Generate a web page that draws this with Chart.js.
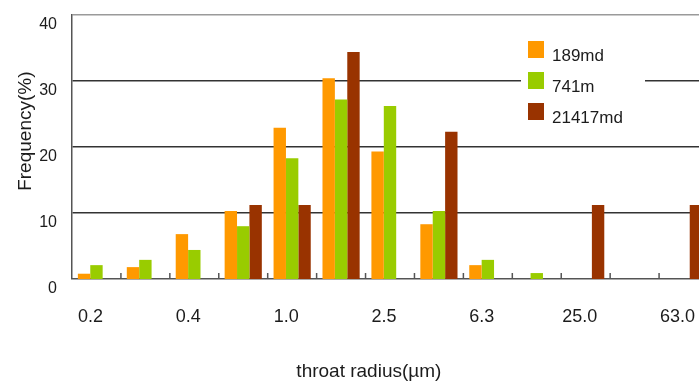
<!DOCTYPE html>
<html>
<head>
<meta charset="utf-8">
<script src="https://cdn.jsdelivr.net/npm/chart.js@4/dist/chart.umd.min.js"></script>
<style>
  html, body { margin: 0; padding: 0; background: #fff; overflow: hidden; }
  #wrap { width: 699px; height: 383px; overflow: hidden; position: relative; }
  canvas { display: block; }
</style>
</head>
<body>
<div id="wrap"><canvas id="c" width="708" height="383"></canvas></div>
<script>
// ---- data ----
const categories = ['0.2', '', '0.4', '', '1.0', '', '2.5', '', '6.3', '', '25.0', '', '63.0'];
const series189md   = [0.8, 1.8, 6.8, 10.3, 22.9, 30.4, 19.3, 8.3, 2.1, null, null, null, null];
const series741m    = [2.1, 2.9, 4.4, 8.0, 18.3, 27.2, 26.2, 10.3, 2.9, 0.9, null, null, null];
const series21417md = [null, null, null, 11.2, 11.2, 34.4, null, 22.3, null, null, 11.2, null, 11.2];
const yTicks = [0, 10, 20, 30, 40];

const FONT = '"Liberation Sans", Arial, sans-serif';
const TEXT = '#1c1c1c';

// legend drawn inside the plot area, with a white background
const insideLegend = {
  id: 'insideLegend',
  afterDatasetsDraw(chart) {
    const ctx = chart.ctx;
    ctx.save();
    ctx.fillStyle = '#fff';
    ctx.fillRect(521, 33, 124, 96);
    chart.data.datasets.forEach((ds, i) => {
      const y = 41 + i * 31;
      ctx.fillStyle = ds.backgroundColor;
      ctx.fillRect(528, y, 16, 17);
      ctx.fillStyle = TEXT;
      ctx.font = '17px ' + FONT;
      ctx.textBaseline = 'alphabetic';
      ctx.textAlign = 'left';
      ctx.fillText(ds.label, 552, y + 20);
    });
    ctx.restore();
  }
};

// small tick marks at category boundaries, rising from the x axis
const boundaryTicks = {
  id: 'boundaryTicks',
  afterDraw(chart) {
    const x = chart.scales.x, ctx = chart.ctx;
    const bottom = chart.chartArea.bottom;
    ctx.save();
    ctx.strokeStyle = '#555';
    ctx.lineWidth = 1.5;
    for (let i = 1; i < categories.length; i++) {
      const px = (x.getPixelForValue(i - 1) + x.getPixelForValue(i)) / 2;
      ctx.beginPath();
      ctx.moveTo(px, bottom);
      ctx.lineTo(px, bottom - 6);
      ctx.stroke();
    }
    ctx.restore();
  }
};

new Chart(document.getElementById('c'), {
  type: 'bar',
  data: {
    labels: categories,
    datasets: [
      { label: '189md',   data: series189md,   backgroundColor: '#FF9900' },
      { label: '741m',    data: series741m,    backgroundColor: '#99CC00' },
      { label: '21417md', data: series21417md, backgroundColor: '#993300' }
    ]
  },
  options: {
    responsive: false,
    animation: false,
    events: [],
    layout: { padding: { top: 15, right: 0, left: 0, bottom: 0 } },
    datasets: { bar: { categoryPercentage: 0.76, barPercentage: 1.0, borderWidth: 0 } },
    plugins: { legend: { display: false }, tooltip: { enabled: false } },
    scales: {
      x: {
        grid: { display: false, drawTicks: false },
        border: { display: true, color: '#555', width: 1.5 },
        ticks: {
          autoSkip: false, maxRotation: 0, padding: 27, labelOffset: -6,
          color: TEXT, font: { family: FONT, size: 18 }
        },
        title: {
          display: true, text: 'throat radius(\u00b5m)' + '        ',
          color: TEXT, font: { family: FONT, size: 19 },
          padding: { top: 0, bottom: 0 }
        },
        afterFit(s) { s.height = 104; s.paddingLeft = 0; s.paddingRight = 0; }
      },
      y: {
        min: 0, max: 40,
        afterBuildTicks(s) { s.ticks = yTicks.map(v => ({ value: v })); },
        grid: {
          drawTicks: false,
          color: c => (c.tick && c.tick.value === 40) ? '#9a9a9a' : '#333',
          lineWidth: c => (c.tick && c.tick.value === 0) ? 0 : 1.5
        },
        border: { display: true, color: '#555', width: 1.5 },
        ticks: {
          padding: 15, labelOffset: 10,
          color: TEXT, font: { family: FONT, size: 16 }
        },
        title: {
          display: true, text: '      Frequency(%)',
          color: TEXT, font: { family: FONT, size: 19 },
          padding: { top: 14, bottom: 0 }
        },
        afterFit(s) { s.width = 72; s.paddingTop = 0; s.paddingBottom = 0; }
      }
    }
  },
  plugins: [insideLegend, boundaryTicks]
});
</script>
</body>
</html>
